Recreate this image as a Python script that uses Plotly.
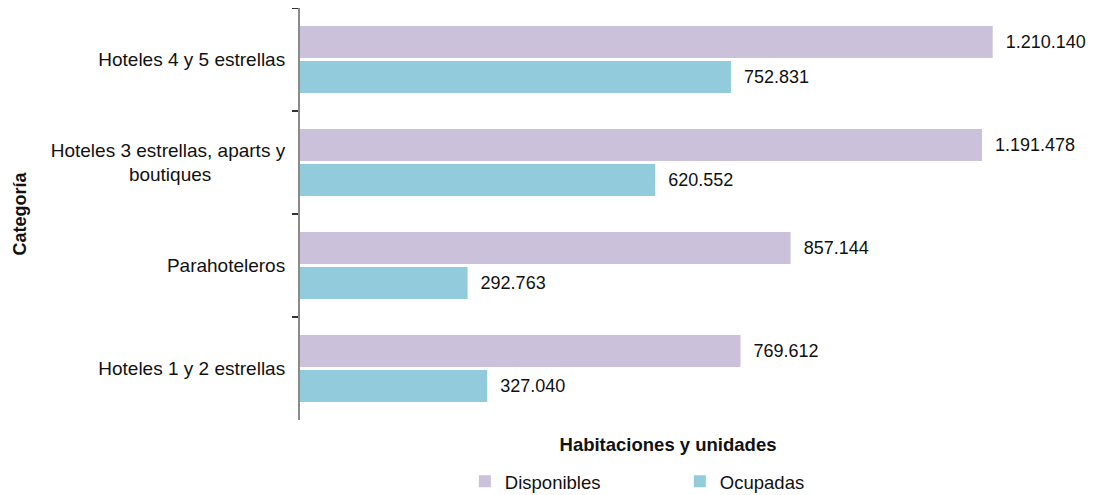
import plotly.graph_objects as go

NB = "\u00a0"
categories = [
    "Hoteles 4 y 5 estrellas",
    "Hoteles 3 estrellas, aparts y<br>boutiques" + NB * 14,
    "Parahoteleros",
    "Hoteles 1 y 2 estrellas",
]
disponibles = [1210140, 1191478, 857144, 769612]
ocupadas = [752831, 620552, 292763, 327040]

series_names = ["Disponibles", "Ocupadas"]
colors = ["#CBC1DB", "#92CCDC"]

FONT = "Liberation Sans, Arial, Helvetica, sans-serif"

fig = go.Figure()
for name, vals, col in zip(series_names, [disponibles, ocupadas], colors):
    fig.add_trace(go.Bar(
        y=categories, x=vals, name=name, orientation="h",
        marker=dict(color=col, line=dict(width=0)),
        texttemplate=NB * 2 + "%{x:,.0f}", textposition="outside",
        textfont=dict(size=18, color="#111111", family=FONT),
        cliponaxis=False, hoverinfo="x+y",
    ))

fig.update_layout(
    width=1087, height=487,
    margin=dict(l=292, r=59, t=0, b=75, autoexpand=False),
    paper_bgcolor="white", plot_bgcolor="white",
    separators=",.",
    barmode="group", bargap=0.32, bargroupgap=0.08,
    font=dict(family=FONT, size=18, color="#111111"),
    showlegend=True,
    legend=dict(
        orientation="h", x=0.224, xanchor="left", y=-0.150, yanchor="middle",
        font=dict(size=18.5, family=FONT, color="#111111"),
        entrywidth=170, entrywidthmode="pixels", itemwidth=30,
        traceorder="normal",
    ),
    xaxis=dict(
        range=[0, 1285800], showgrid=False, zeroline=False, showline=False,
        showticklabels=False, ticks="", automargin=False,
        title=dict(text="<b>Habitaciones y unidades</b>", standoff=18,
                   font=dict(size=18.5, family=FONT, color="#111111")),
    ),
    yaxis=dict(
        autorange="reversed", type="category",
        showline=True, linecolor="#8a8a8a", linewidth=2,
        ticks="outside", tickson="boundaries", ticklen=6, tickcolor="#333333", tickwidth=1.5,
        showgrid=False, zeroline=False, automargin=False,
        ticklabelstandoff=9,
        tickfont=dict(size=19, family=FONT, color="#111111"),
        title=dict(text="<b>Categoría</b>", standoff=19,
                   font=dict(size=18, family=FONT, color="#111111")),
    ),
)

fig.write_html("out.html")
